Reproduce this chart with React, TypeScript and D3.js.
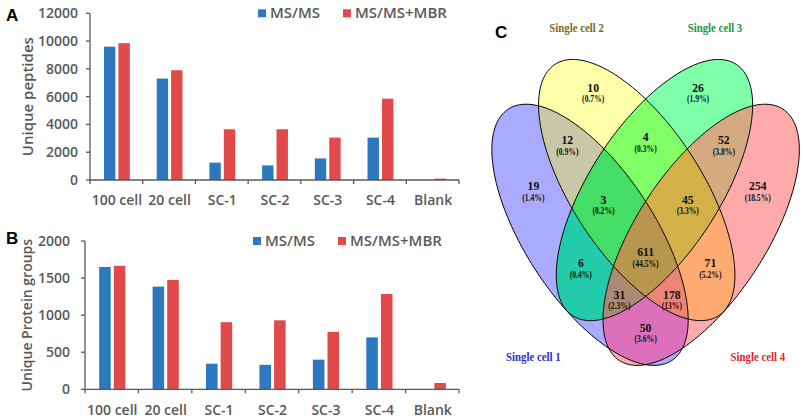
import React from "react";
import * as d3 from "d3";

// ---------- DATA ----------
const categories = ["100 cell", "20 cell", "SC-1", "SC-2", "SC-3", "SC-4", "Blank"];
const seriesNames = ["MS/MS", "MS/MS+MBR"];
const peptidesMSMS = [9600, 7300, 1250, 1050, 1550, 3050, 0];
const peptidesMBR = [9850, 7900, 3650, 3650, 3050, 5850, 100];
const proteinsMSMS = [1650, 1385, 345, 330, 400, 700, 0];
const proteinsMBR = [1665, 1475, 905, 930, 775, 1285, 85];
const peptideTicks = [0, 2000, 4000, 6000, 8000, 10000, 12000];
const proteinTicks = [0, 500, 1000, 1500, 2000];

const setNames = ["Single cell 1", "Single cell 2", "Single cell 3", "Single cell 4"];
const regionSets = ["1", "2", "3", "4", "12", "23", "34", "123", "234", "1234", "13", "24", "134", "124", "14"];
const regionCounts = [19, 10, 26, 254, 12, 4, 52, 3, 45, 611, 6, 71, 31, 178, 50];
const regionPercents = ["1.4%", "0.7%", "1.9%", "18.5%", "0.9%", "0.3%", "3.8%", "0.2%", "3.3%", "44.5%", "0.4%", "5.2%", "2.3%", "13%", "3.6%"];

// ---------- LAYOUT / STYLE ----------
const seriesColors = ["#2e78bf", "#e04a4a"];
const GRAY = "#595959";
const SANS = "'Open Sans', 'Liberation Sans', sans-serif";
const SERIF = "'Liberation Serif', 'DejaVu Serif', serif";

// Venn geometry in unit (npc) coordinates
const vennEllipses = [
  { cx: 0.343, cy: 0.473, rot: 133.2 },
  { cx: 0.475, cy: 0.572, rot: 133.2 },
  { cx: 0.525, cy: 0.572, rot: 46.8 },
  { cx: 0.657, cy: 0.473, rot: 46.8 },
];
const ELL_A = 0.364;
const ELL_B = 0.167;
const regionLabelPos: [number, number][] = [
  [0.183, 0.582], [0.352, 0.799], [0.648, 0.799], [0.817, 0.582],
  [0.279, 0.683], [0.5, 0.69], [0.721, 0.683],
  [0.381, 0.552], [0.619, 0.552], [0.5, 0.436],
  [0.317, 0.411], [0.683, 0.411], [0.426, 0.342], [0.574, 0.342], [0.5, 0.268],
];
const regionFills: Record<string, string> = {
  "1": "#aaaaff", "2": "#ffffaa", "3": "#80ffaa", "4": "#ffaaaa",
  "12": "#c8c8a8", "23": "#80ff66", "34": "#d4aa80",
  "123": "#44dd66", "234": "#d4b048", "1234": "#b8964e",
  "13": "#22ccaa", "24": "#ffaa70", "134": "#aa8a72", "124": "#f08474", "14": "#dd70bb",
};
const setLabelPos: [number, number][] = [[0.183, 0.203], [0.305, 0.932], [0.696, 0.932], [0.817, 0.203]];
const setLabelColors = ["#2f2fcc", "#7a6c1c", "#16963a", "#e52228"];

type PanelProps = {
  letter: string; letterY: number;
  x0: number; x1: number; yTop: number; yBottom: number;
  ticks: number[]; a: number[]; b: number[]; title: string;
  titleX: number; tickGap: number; labelY: number; titleSize: number;
};

function BarPanel(p: PanelProps) {
  const max = p.ticks[p.ticks.length - 1];
  const x = d3.scaleBand<string>().domain(categories).range([p.x0, p.x1]).padding(0);
  const bw = x.bandwidth();
  const xs = d3.scaleBand<string>().domain(seriesNames).range([bw * 0.265, bw * 0.755]).paddingInner(0.21).paddingOuter(0);
  const y = d3.scaleLinear().domain([0, max]).range([p.yBottom, p.yTop]);
  const vals = [p.a, p.b];
  const boundaries = categories.map((c) => x(c)!).concat([p.x1]);
  const legX = p.x0 + 168;
  const legY = p.yTop - 4;
  return (
    <g>
      <text x={6} y={p.letterY} fontFamily="'Liberation Sans', Arial, sans-serif" fontWeight="bold" fontSize={17} fill="#000">{p.letter}</text>
      {categories.map((c, i) =>
        seriesNames.map((s, j) => (
          <rect key={c + s} x={x(c)! + xs(s)!} width={xs.bandwidth()} y={y(vals[j][i])}
            height={p.yBottom - y(vals[j][i])} fill={seriesColors[j]} />
        ))
      )}
      <line x1={p.x0} x2={p.x0} y1={p.yTop} y2={p.yBottom} stroke={GRAY} strokeWidth={1.3} />
      {p.ticks.map((t) => (
        <g key={t}>
          <line x1={p.x0 - 4} x2={p.x0} y1={y(t)} y2={y(t)} stroke={GRAY} strokeWidth={1.3} />
          <text x={p.x0 - p.tickGap} y={y(t)} dy="0.35em" textAnchor="end" fontFamily={SANS} fontWeight={600} fontSize={14} fill={GRAY}>{t}</text>
        </g>
      ))}
      <line x1={p.x0} x2={p.x1} y1={p.yBottom} y2={p.yBottom} stroke={GRAY} strokeWidth={1.3} />
      {boundaries.map((bx, i) => (
        <line key={i} x1={bx} x2={bx} y1={p.yBottom} y2={p.yBottom + 4} stroke={GRAY} strokeWidth={1.3} />
      ))}
      {categories.map((c) => (
        <text key={c} x={x(c)! + bw * 0.51} y={p.labelY} textAnchor="middle" fontFamily={SANS} fontWeight={600} fontSize={14} fill={GRAY}>{c}</text>
      ))}
      <text transform={`translate(${p.titleX},${(p.yTop + p.yBottom) / 2}) rotate(-90)`} textAnchor="middle" dy="0.35em"
        fontFamily={SANS} fontWeight={600} fontSize={p.titleSize} fill={GRAY}>{p.title}</text>
      {seriesNames.map((s, j) => (
        <g key={s} transform={`translate(${legX + j * 85},${legY})`}>
          <rect x={0} y={0} width={8} height={8} fill={seriesColors[j]} />
          <text x={12} y={9} fontFamily={SANS} fontWeight={600} fontSize={15} fill={GRAY}>{s}</text>
        </g>
      ))}
    </g>
  );
}

function Venn() {
  const vx = d3.scaleLinear().domain([0, 1]).range([468.6, 822.6]);
  const vy = d3.scaleLinear().domain([0, 1]).range([448.6, -3.4]);
  const line = d3.line<[number, number]>().x((d) => vx(d[0])).y((d) => vy(d[1])).curve(d3.curveLinearClosed);
  const paths = vennEllipses.map((e) => {
    const r = (e.rot * Math.PI) / 180;
    const pts: [number, number][] = d3.range(0, 240).map((k) => {
      const t = (k / 240) * Math.PI * 2;
      const ca = ELL_A * Math.cos(t), sb = ELL_B * Math.sin(t);
      return [e.cx + ca * Math.cos(r) - sb * Math.sin(r), e.cy + ca * Math.sin(r) + sb * Math.cos(r)];
    });
    return line(pts)!;
  });
  return (
    <g>
      <defs>
        {paths.map((d, i) => (
          <clipPath key={i} id={`ell-clip-${i}`}><path d={d} /></clipPath>
        ))}
        {regionSets.map((rs) => (
          <mask key={rs} id={`reg-mask-${rs}`} maskUnits="userSpaceOnUse" x={0} y={0} width={804} height={420}>
            <rect x={0} y={0} width={804} height={420} fill="#fff" />
            {paths.map((d, i) => (rs.includes(String(i + 1)) ? null : <path key={i} d={d} fill="#000" />))}
          </mask>
        ))}
      </defs>
      {regionSets.map((rs) => {
        const ins = rs.split("").map((c) => Number(c) - 1);
        let node: React.ReactNode = (
          <rect x={440} y={0} width={364} height={420} fill={regionFills[rs]} mask={`url(#reg-mask-${rs})`} />
        );
        ins.forEach((i) => {
          node = <g clipPath={`url(#ell-clip-${i})`}>{node}</g>;
        });
        return <g key={rs}>{node}</g>;
      })}
      {paths.map((d, i) => (
        <path key={i} d={d} fill="none" stroke="#000" strokeWidth={1} />
      ))}
      {regionCounts.map((c, i) => {
        const [u, v] = regionLabelPos[i];
        return (
          <g key={i} transform={`translate(${vx(u)},${vy(v)})`} fontFamily={SERIF} fontWeight="bold" textAnchor="middle" fill="#111">
            <text transform="scale(0.9,1)" y={4.5} fontSize={13}>{c}</text>
            <text transform="scale(0.8,1)" y={15} fontSize={9.5}>({regionPercents[i]})</text>
          </g>
        );
      })}
      {setNames.map((s, i) => {
        const [u, v] = setLabelPos[i];
        return (
          <text key={s} transform={`translate(${vx(u)},${vy(v)}) scale(0.8,1)`} y={4.5} textAnchor="middle"
            fontFamily={SERIF} fontWeight="bold" fontSize={13.5} fill={setLabelColors[i]}>{s}</text>
        );
      })}
      <text x={495} y={38} fontFamily="'Liberation Sans', Arial, sans-serif" fontWeight="bold" fontSize={17} fill="#000">C</text>
    </g>
  );
}

export default function App() {
  return (
    <svg width={804} height={420} style={{ position: "absolute", left: 0, top: 0, background: "#fff" }}>
      <rect width={804} height={420} fill="#fff" />
      <BarPanel letter="A" letterY={21} x0={90} x1={459} yTop={13.3} yBottom={180} ticks={peptideTicks}
        a={peptidesMSMS} b={peptidesMBR} title="Unique peptides" titleX={28} tickGap={12} labelY={205} titleSize={15} />
      <BarPanel letter="B" letterY={244} x0={85} x1={459} yTop={241} yBottom={389.3} ticks={proteinTicks}
        a={proteinsMSMS} b={proteinsMBR} title="Unique Protein groups" titleX={27.5} tickGap={15} labelY={415} titleSize={14} />
      <Venn />
    </svg>
  );
}
